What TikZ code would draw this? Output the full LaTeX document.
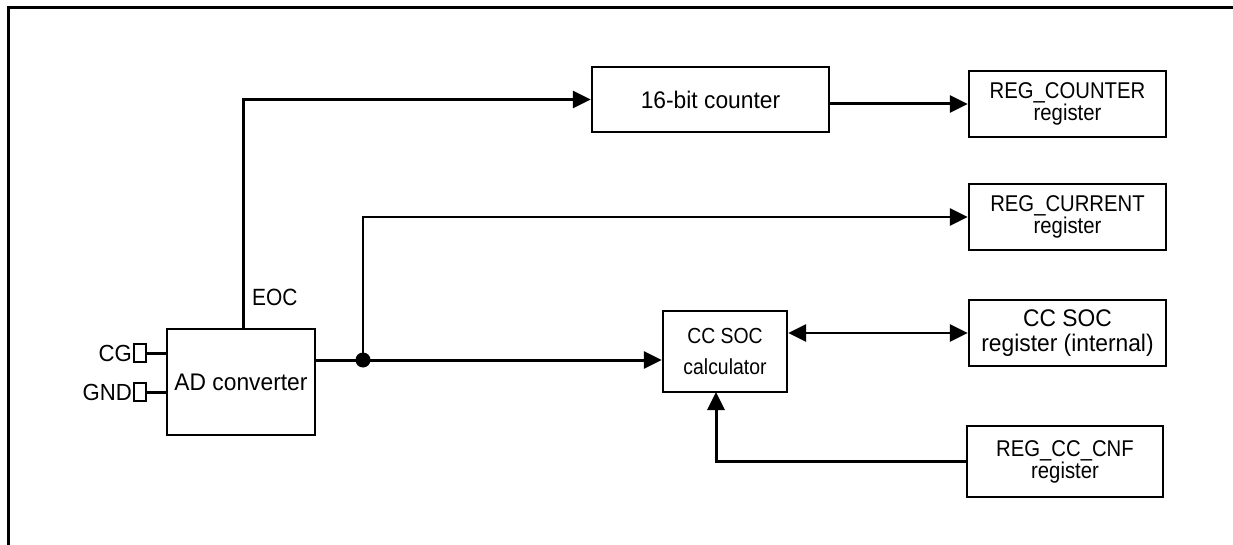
\documentclass[tikz,border=0pt]{standalone}
\usepackage{fontspec}
\setmainfont{Liberation Sans}
\newfontfamily\fA{Liberation Sans}[FakeStretch=0.95]
\newfontfamily\fB{Liberation Sans}[FakeStretch=0.89]
\usetikzlibrary{arrows.meta}
\lineskiplimit=-100pt
\tikzset{
  fa/.style 2 args={font=\fA\fontsize{#1}{#2}\selectfont},
  fb/.style 2 args={font=\fB\fontsize{#1}{#2}\selectfont},
  fn/.style 2 args={font=\fontsize{#1}{#2}\selectfont},
  blk/.style={draw, line width=2.4pt, inner sep=0pt, align=center},
  pin/.style={draw, line width=1.8pt, inner sep=0pt, minimum width=12pt, minimum height=18pt},
  lbl/.style={inner sep=0pt},
  wire/.style={line width=3pt},
  arr/.style={line width=3pt, -{Triangle[length=18pt,width=17pt]}},
  biarr/.style={line width=2.6pt, {Triangle[length=18pt,width=17pt]}-{Triangle[length=18pt,width=17pt]}},
}
\begin{document}
\begin{tikzpicture}[x=1pt,y=-1pt]
\useasboundingbox (0,0) rectangle (1233,545);
% frame
\draw[line width=3pt] (8,546) -- (8,8) -- (1234,8);

% blocks
\node[blk, fa={24}{26}, minimum width=148pt, minimum height=106pt] (ad) at (241,382) {AD converter};
\node[blk, fa={24}{26}, minimum width=237pt, minimum height=65pt] (counter) at (710.5,99.5) {16-bit counter};
\node[blk, fb={22.8}{22}, minimum width=197pt, minimum height=66pt] (regcounter) at (1067.5,104) {REG\_COUNTER\\register};
\node[blk, fb={22.8}{22}, minimum width=197pt, minimum height=66pt] (regcurrent) at (1067.5,217) {REG\_CURRENT\\register};
\node[blk, fb={21.8}{31}, minimum width=124pt, minimum height=81pt] (ccsoc) at (725,351.5) {CC SOC\\calculator};
\node[blk, fa={24}{25.5}, minimum width=197pt, minimum height=66pt] (ccreg) at (1067.5,333) {CC SOC\\register (internal)};
\node[blk, fb={22.8}{22}, minimum width=196pt, minimum height=71pt] (cnf) at (1065,461.5) {REG\_CC\_CNF\\register};

% pins
\node[pin] (cg) at (140,353) {};
\node[pin] (gnd) at (140,392) {};
\node[lbl, fa={23.3}{25}, anchor=east] (cglbl) at (132,353) {CG};
\node[lbl, fa={23.3}{25}, anchor=east] (gndlbl) at (132,392) {GND};
\draw[wire] (cg.east) -- (cg.east -| ad.west);
\draw[wire] (gnd.east) -- (gnd.east -| ad.west);

% EOC
\node[lbl, fb={23.5}{25}, anchor=west] (eoc) at (252,297.5) {EOC};
\coordinate (eocbase) at (243,329);
\draw[arr] (eocbase) |- (counter.west);

% counter to register
\draw[arr] (counter.east |- regcounter.west) -- (regcounter.west);

% junction
\coordinate (j) at (363,360);
\draw[wire] (ad.east |- j) -- (j);
\draw[arr] (j) -- (ccsoc.west |- j);
\draw[arr, line width=2.6pt] (j) |- (regcurrent.west);
\fill (j) circle (7.5pt);

% bidirectional
\draw[biarr] (ccsoc.east |- ccreg.west) -- (ccreg.west);

% config
\coordinate (cin) at (716,392);
\draw[arr] (cnf.west) -| (cin);
\end{tikzpicture}
\end{document}
